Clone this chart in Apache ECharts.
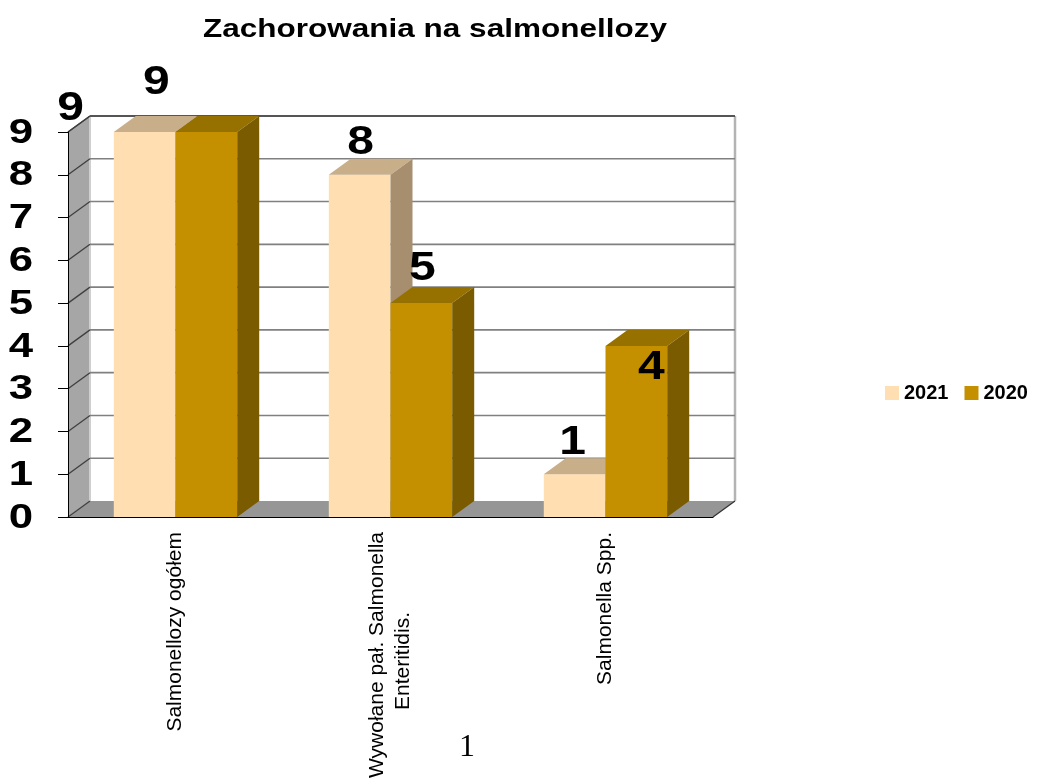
<!DOCTYPE html>
<html>
<head>
<meta charset="utf-8">
<title>Zachorowania na salmonellozy</title>
<script src="https://cdn.jsdelivr.net/npm/echarts@6/dist/echarts.min.js"></script>
<style>
  html, body { margin: 0; padding: 0; background: #fff; }
  #chart { width: 1042px; height: 783px; }
</style>
</head>
<body>
<div id="chart"></div>
<script>
// dane
var chartTitle = 'Zachorowania na salmonellozy';
var pageNumber = '1';
var categories = ['Salmonellozy ogółem', 'Wywołane pał. Salmonella\nEnteritidis.', 'Salmonella Spp.'];
var seriesNames = ['2021', '2020'];
var values2021 = [9, 8, 1];
var values2020 = [9, 5, 4];
var yTicks = [0, 1, 2, 3, 4, 5, 6, 7, 8, 9];

// wyglad
var FONT = 'Arial, "Liberation Sans", sans-serif';
var DX = 22, DY = -16;      // glebokosc "3D"
var SX = 1.25;              // rozciagniecie tekstu w poziomie
var barShare = 0.287;       // szerokosc slupka / szerokosc kategorii
var palette = [
  { front: '#FFDFB1', top: '#C9AE8A', side: '#A68E6E' },
  { front: '#C49000', top: '#967100', side: '#7A5B00' }
];
// przesuniecia etykiet wartosci [kategoria][seria]
var labelShift = [
  [[-74, -23], [-50, -49]],
  [[1, -32], [1, -34]],
  [[-2, -31], [15, 22]]
];

var chart = echarts.init(document.getElementById('chart'));

function renderWalls(params, api) {
  var cs = params.coordSys;
  var L = cs.x, R = cs.x + cs.width, T = cs.y, B = cs.y + cs.height;
  return {
    type: 'group',
    children: [
      { type: 'rect', shape: { x: L + DX, y: T + DY, width: cs.width, height: cs.height }, style: { fill: '#fff' } },
      { type: 'polygon', shape: { points: [[L, B], [L, T], [L + DX, T + DY], [L + DX, B + DY]] }, style: { fill: '#A6A6A6' } },
      { type: 'line', shape: { x1: L + DX, y1: T + DY, x2: L + DX, y2: B + DY }, style: { stroke: '#cfcfcf', lineWidth: 2 } },
      { type: 'polygon', shape: { points: [[L, B], [R, B], [R + DX, B + DY], [L + DX, B + DY]] }, style: { fill: '#969696' } },
      { type: 'line', shape: { x1: R + DX, y1: T + DY, x2: R + DX, y2: B + DY }, style: { stroke: '#b4b4b4', lineWidth: 2.5 } },
      { type: 'line', shape: { x1: R, y1: B, x2: R + DX, y2: B + DY }, style: { stroke: '#333', lineWidth: 1.2 } },
      { type: 'line', shape: { x1: L, y1: T, x2: L + DX, y2: T + DY }, style: { stroke: '#333', lineWidth: 1.2 } }
    ]
  };
}

function renderGrid(params, api) {
  var cs = params.coordSys;
  var L = cs.x, R = cs.x + cs.width;
  var v = api.value(1);
  var y = api.coord([0, v])[1];
  var isTop = v === yTicks[yTicks.length - 1];
  var children = [
    { type: 'line', shape: { x1: L, y1: y, x2: L + DX, y2: y + DY }, style: { stroke: '#404040', lineWidth: 1.3 } },
    { type: 'text', x: L - 35, y: y + 1, scaleX: SX,
      style: { text: String(v), x: 0, y: 0, align: 'right', verticalAlign: 'middle', font: 'bold 35px ' + FONT, fill: '#000' } }
  ];
  if (v > 0) {
    children.push({ type: 'line', shape: { x1: L + DX, y1: y + DY, x2: R + DX, y2: y + DY },
      style: { stroke: isTop ? '#555' : '#808080', lineWidth: isTop ? 2 : 1.6 } });
  }
  return { type: 'group', children: children };
}

function renderBar(si) {
  var pal = palette[si];
  return function (params, api) {
    var i = api.value(0), v = api.value(1);
    var p = api.coord([i, v]), b = api.coord([i, 0]);
    var bw = api.size([1, 0])[0] * barShare;
    var x0 = si === 0 ? p[0] - bw : p[0], x1 = x0 + bw;
    var t = p[1], bot = b[1];
    var sh = labelShift[i][si];
    return {
      type: 'group',
      children: [
        { type: 'rect', shape: { x: x0, y: t, width: bw, height: bot - t }, style: { fill: pal.front } },
        { type: 'polygon', shape: { points: [[x0, t], [x1, t], [x1 + DX, t + DY], [x0 + DX, t + DY]] }, style: { fill: pal.top } },
        { type: 'polygon', shape: { points: [[x1, t], [x1 + DX, t + DY], [x1 + DX, bot + DY], [x1, bot]] }, style: { fill: pal.side } },
        { type: 'text', x: x0 + bw / 2 + sh[0], y: t + sh[1], scaleX: 1.2,
          style: { text: String(v), x: 0, y: 0, align: 'center', verticalAlign: 'middle', font: 'bold 40px ' + FONT, fill: '#000' } }
      ]
    };
  };
}

var option = {
  animation: false,
  backgroundColor: '#fff',
  grid: { left: 68, right: 329, top: 132, bottom: 266 },
  legend: {
    data: seriesNames,
    left: 880,
    top: 378,
    icon: 'rect',
    itemWidth: 14,
    itemHeight: 14,
    itemGap: 16,
    textStyle: { fontFamily: FONT, fontWeight: 'bold', fontSize: 20, color: '#000' }
  },
  xAxis: {
    type: 'category',
    data: categories,
    z: 5,
    axisLine: { lineStyle: { color: '#000', width: 1 } },
    axisTick: { length: 6, lineStyle: { color: '#000' } },
    axisLabel: {
      rotate: 90,
      interval: 0,
      margin: 15,
      fontFamily: FONT,
      fontSize: 21,
      lineHeight: 26,
      color: '#000',
      formatter: function (v) {
        var parts = v.split('\n');
        return parts.length > 1 ? parts[0] + '\n{b|' + parts[1] + '}' : v;
      },
      rich: {
        b: { fontFamily: FONT, fontSize: 21, lineHeight: 26, color: '#000', padding: [0, 80, 0, 0] }
      }
    }
  },
  yAxis: {
    type: 'value',
    min: 0,
    max: 9,
    interval: 1,
    z: 5,
    axisLine: { show: true, lineStyle: { color: '#000' } },
    axisTick: { show: true, length: 10, lineStyle: { color: '#000' } },
    axisLabel: { show: false },
    splitLine: { show: false }
  },
  graphic: [
    { type: 'text', x: 435, y: 30, scaleX: 1.26,
      style: { text: chartTitle, x: 0, y: 0, font: 'bold 25px ' + FONT, align: 'center', verticalAlign: 'middle', fill: '#000' } },
    { type: 'text', x: 467, y: 748,
      style: { text: pageNumber, x: 0, y: 0, font: '32px "Liberation Serif", "Times New Roman", serif', align: 'center', verticalAlign: 'middle', fill: '#000' } }
  ],
  series: [
    { type: 'custom', name: 'walls', silent: true, z: 1, renderItem: renderWalls, encode: { x: 0, y: 1 }, data: [[0, 0]] },
    { type: 'custom', name: 'grid', silent: true, z: 2, renderItem: renderGrid, encode: { x: 0, y: 1 },
      data: yTicks.map(function (v) { return [0, v]; }) },
    { type: 'custom', name: seriesNames[0], z: 3, renderItem: renderBar(0), encode: { x: 0, y: 1 },
      itemStyle: { color: palette[0].front },
      data: values2021.map(function (v, i) { return [i, v]; }) },
    { type: 'custom', name: seriesNames[1], z: 4, renderItem: renderBar(1), encode: { x: 0, y: 1 },
      itemStyle: { color: palette[1].front },
      data: values2020.map(function (v, i) { return [i, v]; }) }
  ]
};

chart.setOption(option);
</script>
</body>
</html>
